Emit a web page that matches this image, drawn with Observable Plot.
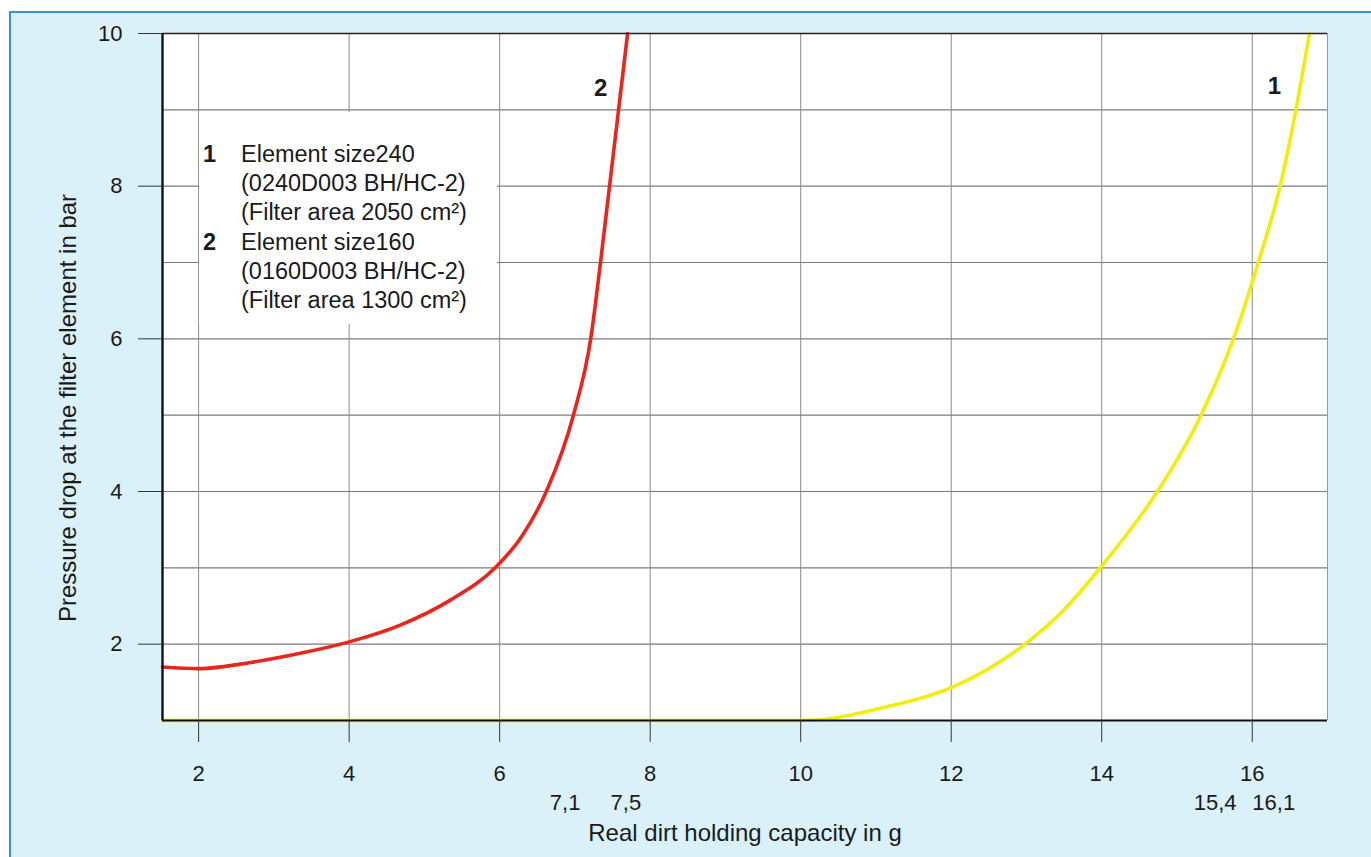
<!DOCTYPE html>
<html>
<head>
<meta charset="utf-8">
<script src="https://cdn.jsdelivr.net/npm/d3@7"></script>
<script src="https://cdn.jsdelivr.net/npm/@observablehq/plot@0.6"></script>
<style>
  html, body { margin:0; padding:0; background:#ffffff; width:1371px; height:857px; overflow:hidden;
    font-family:"Liberation Sans", Arial, Helvetica, sans-serif; color:#1a1a1a; }
  #bg { position:absolute; left:9px; top:11px; right:0; bottom:0; background:#dbf1f9;
    border-left:2.5px solid #3b8fdb; border-top:2.5px solid #3b8fdb; }
  #chart { position:absolute; left:0; top:0; }
  #legend { position:absolute; left:199px; top:112px; width:298px; height:212px; background:#ffffff;
    box-sizing:border-box; padding-top:28px; font-size:23.5px; line-height:29.2px; color:#1a1a1a; }
  #legend .row { position:relative; padding-left:42px; white-space:nowrap; }
  #legend .num { position:absolute; left:4px; font-weight:bold; }
</style>
</head>
<body>
<div id="bg"></div>
<div id="chart"></div>
<div id="legend"></div>
<script>
// ---- data ----
const xDomain = [1.52, 17];
const yDomain = [1, 10];
const xTicks = [2, 4, 6, 8, 10, 12, 14, 16];
const yTicks = [2, 4, 6, 8, 10];
const yGrid = [2, 3, 4, 5, 6, 7, 8, 9];

// curve 1: element size 240
const capacity1 = [1.52, 3, 5, 7, 8, 9, 10, 10.26, 11.06, 12, 12.98, 13.5, 13.98, 14.74, 15.32, 15.75, 16.08, 16.37, 16.58, 16.76];
const pressure1 = [1.0, 1.0, 1.0, 1.0, 1.0, 1.0, 1.0, 1.01, 1.16, 1.43, 2.0, 2.45, 3.0, 4.0, 5.0, 6.0, 7.0, 8.0, 9.0, 10.0];

// curve 2: element size 160
const capacity2 = [1.52, 2, 2.69, 3.35, 4, 4.68, 5.35, 5.94, 6.3, 6.62, 6.98, 7.21, 7.34, 7.46, 7.58, 7.7];
const pressure2 = [1.70, 1.68, 1.76, 1.88, 2.03, 2.25, 2.58, 3.0, 3.42, 4.0, 5.0, 6.0, 7.0, 8.0, 9.0, 10.0];

const extraValues = [7.1, 7.5, 15.4, 16.1];
const extraLabels = ["7,1", "7,5", "15,4", "16,1"];

const legendRows = [
  ["1", "Element size240"],
  ["", "(0240D003 BH/HC-2)"],
  ["", "(Filter area 2050 cm²)"],
  ["2", "Element size160"],
  ["", "(0160D003 BH/HC-2)"],
  ["", "(Filter area 1300 cm²)"]
];
const xTitle = "Real dirt holding capacity in g";
const yTitle = "Pressure drop at the filter element in bar";

// ---- build ----
const s1 = capacity1.map((x, i) => ({x, y: pressure1[i]}));
const s2 = capacity2.map((x, i) => ({x, y: pressure2[i]}));
const extra = extraValues.map((v, i) => ({v, t: extraLabels[i]}));

const font = "Liberation Sans, Arial, Helvetica, sans-serif";
const fs = 22;
const ink = "#1a1a1a";

const plot = Plot.plot({
  width: 1371,
  height: 857,
  marginLeft: 162,
  marginRight: 44,
  marginTop: 33,
  marginBottom: 137,
  style: {background: "transparent", fontFamily: font, fontSize: fs + "px", color: ink, overflow: "visible"},
  x: {domain: xDomain},
  y: {domain: yDomain},
  marks: [
    Plot.frame({fill: "#ffffff", stroke: null}),
    Plot.gridY(yGrid, {stroke: "#7a7a88", strokeOpacity: 1, strokeWidth: 1.2}),
    Plot.gridX(xTicks, {stroke: "#8a8a8a", strokeOpacity: 1, strokeWidth: 1}),
    Plot.line(s1, {x: "x", y: "y", stroke: "#f2ee0c", strokeWidth: 3.6, curve: "monotone-x"}),
    Plot.line(s2, {x: "x", y: "y", stroke: "#e8261c", strokeWidth: 3.6, curve: "monotone-x"}),
    Plot.ruleY([yDomain[0]], {stroke: "#111", strokeWidth: 2.2}),
    Plot.ruleY([yDomain[1]], {stroke: "#222", strokeWidth: 1.4}),
    Plot.ruleX([xDomain[0]], {stroke: "#111", strokeWidth: 2.4}),
    Plot.ruleX([xDomain[1]], {stroke: "#999", strokeWidth: 1}),
    Plot.axisY(yTicks, {tickSize: 24, tickPadding: 16, label: null, fontSize: fs, stroke: "#333", tickFormat: d => String(d)}),
    Plot.axisX(xTicks, {tickSize: 22, tickPadding: 23, label: null, fontSize: fs, stroke: "#333", tickFormat: d => String(d)}),
    Plot.text(extra.slice(0, 1), {x: "v", y: () => yDomain[0], text: "t", textAnchor: "end", dx: -2, dy: 82, fontSize: fs, fill: ink}),
    Plot.text(extra.slice(1, 2), {x: "v", y: () => yDomain[0], text: "t", textAnchor: "start", dx: -2, dy: 82, fontSize: fs, fill: ink}),
    Plot.text(extra.slice(2, 3), {x: "v", y: () => yDomain[0], text: "t", dx: 8, dy: 82, fontSize: fs, fill: ink}),
    Plot.text(extra.slice(3, 4), {x: "v", y: () => yDomain[0], text: "t", dx: 14, dy: 82, fontSize: fs, fill: ink}),
    Plot.text(s2.slice(-1), {x: "x", y: "y", text: () => "2", dx: -27, dy: 55, fontSize: 24, fontWeight: "bold", fill: ink}),
    Plot.text(s1.slice(-1), {x: "x", y: "y", text: () => "1", dx: -35, dy: 53, fontSize: 24, fontWeight: "bold", fill: ink}),
    Plot.text([xTitle], {frameAnchor: "bottom", text: d => d, textAnchor: "middle", dy: 120, fontSize: 24, fill: ink}),
    Plot.text([yTitle], {frameAnchor: "left", text: d => d, textAnchor: "middle", dx: -94, dy: 31, rotate: -90, fontSize: 24, fill: ink})
  ]
});
document.getElementById("chart").appendChild(plot);

const leg = document.getElementById("legend");
legendRows.forEach(([n, t]) => {
  const row = document.createElement("div");
  row.className = "row";
  const num = document.createElement("span");
  num.className = "num";
  num.textContent = n;
  const txt = document.createElement("span");
  txt.textContent = t;
  row.appendChild(num);
  row.appendChild(txt);
  leg.appendChild(row);
});
</script>
</body>
</html>
